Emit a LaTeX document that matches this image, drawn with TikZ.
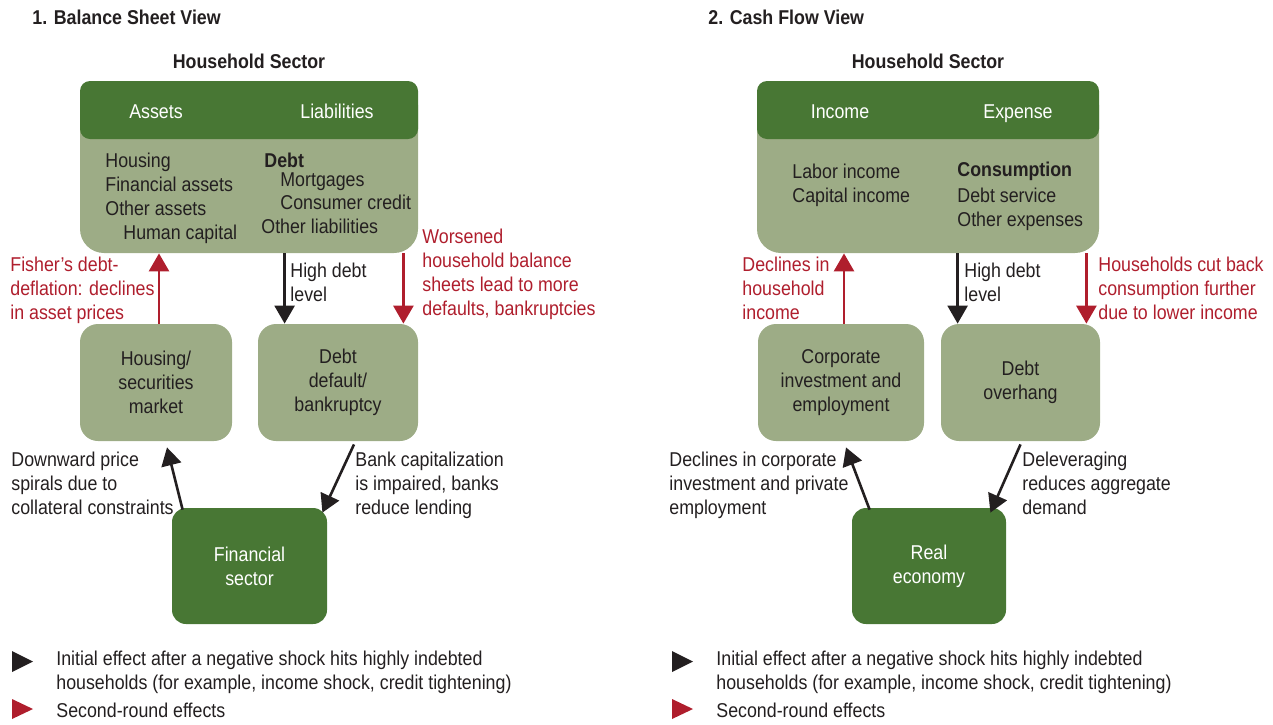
\documentclass[tikz,border=0pt]{standalone}
\usepackage{fontspec}
\setmainfont{Liberation Sans}[FakeStretch=0.89]
\usetikzlibrary{positioning,calc,arrows.meta}
\definecolor{hhdark}{RGB}{72,119,52}
\definecolor{hhlight}{RGB}{157,172,134}
\definecolor{fxred}{RGB}{175,30,45}
\definecolor{ink}{RGB}{35,31,32}

\tikzset{
  lightbox/.style={fill=hhlight, rounded corners=9pt, inner sep=0pt, align=center},
  darkbox/.style={fill=hhdark, text=white, rounded corners=7pt, inner sep=0pt, align=center},
  headtxt/.style={anchor=base, inner sep=0pt, text=white},
  txt/.style={anchor=base west, inner sep=0pt, align=left},
  redtxt/.style={txt, text=fxred},
  blkarr/.style={-{Triangle[width=10pt,length=9pt]}, line width=1.3pt, draw=ink},
  redarr/.style={-{Triangle[width=10pt,length=9pt]}, line width=1.4pt, draw=fxred},
}

\begin{document}
\begin{tikzpicture}[x=0.5pt,y=-0.5pt,font=\fontsize{10}{12}\selectfont,text=ink]
  \useasboundingbox (0,0) rectangle (1273,724);
  % note: base of a multi-line text is the baseline of its last line

  % ---------- 1. balance sheet view ----------
  \node[txt, font=\fontsize{10}{12}\selectfont\bfseries] (titleL) at (32,24) {1. Balance Sheet View};
  \node[anchor=base, inner sep=0pt, font=\fontsize{10}{12}\selectfont\bfseries] (sectorL) at (249,68) {Household Sector};

  % household box
  \node[lightbox, rounded corners=12pt, minimum width=169pt, minimum height=86pt] (hhL) at (249,167) {};
  \node[darkbox, rounded corners=5pt, minimum width=169pt, minimum height=29pt] (hhLhead) at (249,110) {};
  \node[headtxt] (assets) at (156,118) {Assets};
  \node[headtxt] (liab) at (337,118) {Liabilities};
  \node[txt] (assetlist) at (105,239) {Housing\\Financial assets\\Other assets\\\hspace{9pt}Human capital};
  \node[txt, font=\fontsize{10}{12}\selectfont\bfseries] (debt) at (264,167) {Debt};
  \node[txt] (mortg) at (280,186) {Mortgages};
  \node[txt] (cons) at (280,209) {Consumer credit};
  \node[txt] (othliab) at (261,233) {Other liabilities};

  % second row
  \node[lightbox, minimum width=76pt, minimum height=58.5pt] (housing) at (156,382.5) {Housing/\\securities\\market};
  \node[lightbox, minimum width=80pt, minimum height=58.5pt] (default) at (338,382.5) {Debt\\default/\\bankruptcy};
  \node[darkbox, minimum width=77.5pt, minimum height=58pt] (fin) at (249.5,566) {Financial\\sector};

  % arrows
  \coordinate (ruL) at ($(housing.north)+(3,0)$);
  \draw[redarr] (ruL) -- (ruL |- hhL.south);
  \coordinate (bdL) at ($(default.north west)+(27,0)$);
  \draw[blkarr] (bdL |- hhL.south) -- (bdL);
  \coordinate (rdL) at ($(default.north east)+(-15,0)$);
  \draw[redarr] (rdL |- hhL.south) -- (rdL);
  \draw[blkarr] ($(fin.north west)+(11,2)$) -- ($(housing.south)+(11,6)$);
  \draw[blkarr] ($(default.south)+(16,3)$) -- ($(fin.north east)+(-5,5)$);

  % labels
  \node[redtxt] (fisher) at (10,319) {Fisher’s debt-\\deflation: declines\\in asset prices};
  \node[txt] (highL) at (290,301) {High debt\\level};
  \node[redtxt] (worse) at (422,315) {Worsened\\household balance\\sheets lead to more\\defaults, bankruptcies};
  \node[txt] (spiral) at (11,514) {Downward price\\spirals due to\\collateral constraints};
  \node[txt] (bankcap) at (355,514) {Bank capitalization\\is impaired, banks\\reduce lending};

  % legend
  \fill[ink] (12,651) -- (33,661.5) -- (12,672) -- cycle;
  \fill[fxred] (12,699) -- (33,709) -- (12,719) -- cycle;
  \node[txt] (legL1) at (56,689) {Initial effect after a negative shock hits highly indebted\\households (for example, income shock, credit tightening)};
  \node[txt] (legL2) at (56,717) {Second-round effects};

  % ---------- 2. cash flow view ----------
  \node[txt, font=\fontsize{10}{12}\selectfont\bfseries] (titleR) at (708,24) {2. Cash Flow View};
  \node[anchor=base, inner sep=0pt, font=\fontsize{10}{12}\selectfont\bfseries] (sectorR) at (928,68) {Household Sector};

  % household box
  \node[lightbox, rounded corners=12pt, minimum width=171pt, minimum height=86pt] (hhR) at (928,167) {};
  \node[darkbox, rounded corners=5pt, minimum width=171pt, minimum height=29pt] (hhRhead) at (928,110) {};
  \node[headtxt] (income) at (840,118) {Income};
  \node[headtxt] (expense) at (1018,118) {Expense};
  \node[txt] (inclist) at (792,202) {Labor income\\Capital income};
  \node[txt, font=\fontsize{10}{12}\selectfont\bfseries] (consum) at (957,176) {Consumption};
  \node[txt] (explist) at (957,226) {Debt service\\Other expenses};

  % second row
  \node[lightbox, minimum width=83pt, minimum height=58.5pt] (corp) at (841,382.5) {Corporate\\investment and\\employment};
  \node[lightbox, minimum width=79.5pt, minimum height=58.5pt] (overhang) at (1020.5,382.5) {Debt\\overhang};
  \node[darkbox, minimum width=77pt, minimum height=58pt] (real) at (929,566) {Real\\economy};

  % arrows
  \coordinate (ruR) at ($(corp.north)+(3,0)$);
  \draw[redarr] (ruR) -- (ruR |- hhR.south);
  \coordinate (bdR) at ($(overhang.north west)+(17,0)$);
  \draw[blkarr] (bdR |- hhR.south) -- (bdR);
  \coordinate (rdR) at ($(overhang.north east)+(-14,0)$);
  \draw[redarr] (rdR |- hhR.south) -- (rdR);
  \draw[blkarr] ($(real.north west)+(18,2)$) -- ($(corp.south)+(5,6)$);
  \draw[blkarr] ($(overhang.south)+(0,3)$) -- ($(real.north east)+(-16,5)$);

  % labels
  \node[redtxt] (declR) at (742,319) {Declines in\\household\\income};
  \node[txt] (highR) at (964,301) {High debt\\level};
  \node[redtxt] (cutback) at (1098,319) {Households cut back\\consumption further\\due to lower income};
  \node[txt] (declcorp) at (669,514) {Declines in corporate\\investment and private\\employment};
  \node[txt] (delev) at (1022,514) {Deleveraging\\reduces aggregate\\demand};

  % legend
  \fill[ink] (672,651) -- (693,661.5) -- (672,672) -- cycle;
  \fill[fxred] (672,699) -- (693,709) -- (672,719) -- cycle;
  \node[txt] (legR1) at (716,689) {Initial effect after a negative shock hits highly indebted\\households (for example, income shock, credit tightening)};
  \node[txt] (legR2) at (716,717) {Second-round effects};
\end{tikzpicture}
\end{document}
